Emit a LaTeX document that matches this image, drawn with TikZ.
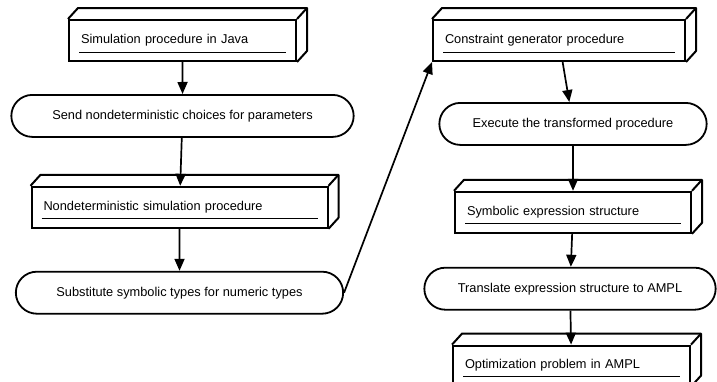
\documentclass[tikz,border=0pt]{standalone}
\usepackage{fontspec}
\setmainfont{Liberation Sans}
\usetikzlibrary{shapes.misc,arrows.meta,positioning,calc}
\tikzset{
  slab/.style    = {draw, line width=2pt, rectangle, inner xsep=12pt, minimum height=41pt, align=left},
  stadium/.style = {draw, line width=1.8pt, rounded rectangle, minimum height=42pt},
  flow/.style    = {black, line width=1.7pt, -{Triangle[length=12pt,width=10pt]}},
}
% top and side face of a box, and the line under its text
\newcommand{\slabfaces}[1]{
  \draw[line width=2pt, line join=round] (#1.north west) -- ++(10,11) -| ($(#1.south east)+(10,11)$) -- (#1.south east);
  \draw[line width=2pt] (#1.north east) -- ++(10,11);
  \draw[line width=1pt] ($(#1.south west)+(11,10)$) -- ($(#1.south east)+(-11,10)$);
}

\begin{document}
\begin{tikzpicture}[x=1pt,y=1pt,font=\fontsize{12.8}{15}\selectfont]
    \useasboundingbox (0,0) rectangle (717,-381);

    % left column
    \node [slab, text width=203pt] (b1) at (182.5,-40.5) {Simulation procedure in Java};
    \node [stadium, minimum width=349pt, below=32pt of b1] (s2) {Send nondeterministic choices for parameters};
    \node [slab, text width=272pt, below=48pt of s2, xshift=-3pt] (b3) {Nondeterministic simulation procedure};
    \node [stadium, minimum width=334pt, below=42pt of b3] (s4) {Substitute symbolic types for numeric types};

    % right column
    \node [slab, text width=228pt] (b5) at (559,-40.5) {Constraint generator procedure};
    \node [stadium, minimum width=274pt, below=40pt of b5, xshift=14pt] (s6) {Execute the transformed procedure};
    \node [slab, text width=212pt, below=45pt of s6] (b7) {Symbolic expression structure};
    \node [stadium, minimum width=298pt, below=33pt of b7, xshift=-3pt] (s8) {Translate expression structure to AMPL};
    \node [slab, text width=213pt, minimum height=40pt, below=34pt of s8, xshift=1.5pt] (b9) {Optimization problem in AMPL};

    \slabfaces{b1}
    \slabfaces{b3}
    \slabfaces{b5}
    \slabfaces{b7}
    \slabfaces{b9}

    \path (b1) edge[flow] (s2);
    \path (s2) edge[flow] (b3);
    \path (b3) edge[flow] (s4);
    \draw[flow] (s4.east) -- (b5.south west);
    \path (b5) edge[flow] (s6);
    \path (s6) edge[flow] (b7);
    \path (b7) edge[flow] (s8);
    \path (s8) edge[flow] (b9);
\end{tikzpicture}
\end{document}
